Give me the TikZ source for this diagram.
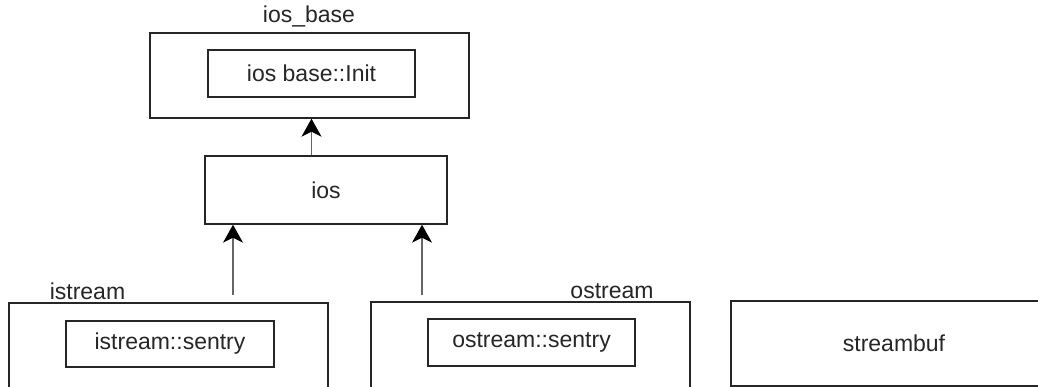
\documentclass[tikz,border=0pt]{standalone}
\usepackage{fontspec}
\setmainfont{Liberation Sans}
\usetikzlibrary{arrows.meta}
\begin{document}
\begin{tikzpicture}[x=1pt,y=-1pt,
  box/.style={draw=black!85,line width=1.4pt,rectangle,inner sep=0pt,font=\fontsize{23}{26}\selectfont,text=black!85},
  lbl/.style={inner sep=0pt,font=\fontsize{23}{26}\selectfont,text=black!85},
  arr/.style={draw=black!60,line width=1.1pt,-{Stealth[length=18pt,width=20pt,inset=5pt,black]}}]
\useasboundingbox (0,0) rectangle (1038,387);
\clip (0,0) rectangle (1038,387);
% top
\node[lbl] (iosbaselbl) at (309,16) {ios\_base};
\node[box,minimum width=319pt,minimum height=85pt] (iosbase) at (309.5,75.5) {};
\node[box,minimum width=207pt,minimum height=47pt] (init) at (311.5,73.5) {ios base::Init};
% ios
\node[box,minimum width=242pt,minimum height=68pt] (ios) at (326,190) {ios};
\draw[arr] (init |- ios.north) -- (init |- iosbase.south);
% bottom
\node[lbl] (istreamlbl) at (87.5,291) {istream};
\node[box,minimum width=319pt,minimum height=86pt] (istream) at (168.5,346) {};
\node[box,minimum width=208pt,minimum height=46pt] (isent) at (170,344) {istream::sentry};
\node[lbl] (ostreamlbl) at (612,291) {ostream};
\node[box,minimum width=319pt,minimum height=87pt] (ostream) at (530.5,345.5) {};
\node[box,minimum width=207pt,minimum height=47pt] (osent) at (531.5,342.5) {ostream::sentry};
\node[box,minimum width=326pt,minimum height=85pt] (streambuf) at (894,343.5) {streambuf};
% arrows to ios
\coordinate (a1) at (233,295);
\coordinate (a2) at (422,295);
\draw[arr] (a1) -- (a1 |- ios.south);
\draw[arr] (a2) -- (a2 |- ios.south);
\end{tikzpicture}
\end{document}
